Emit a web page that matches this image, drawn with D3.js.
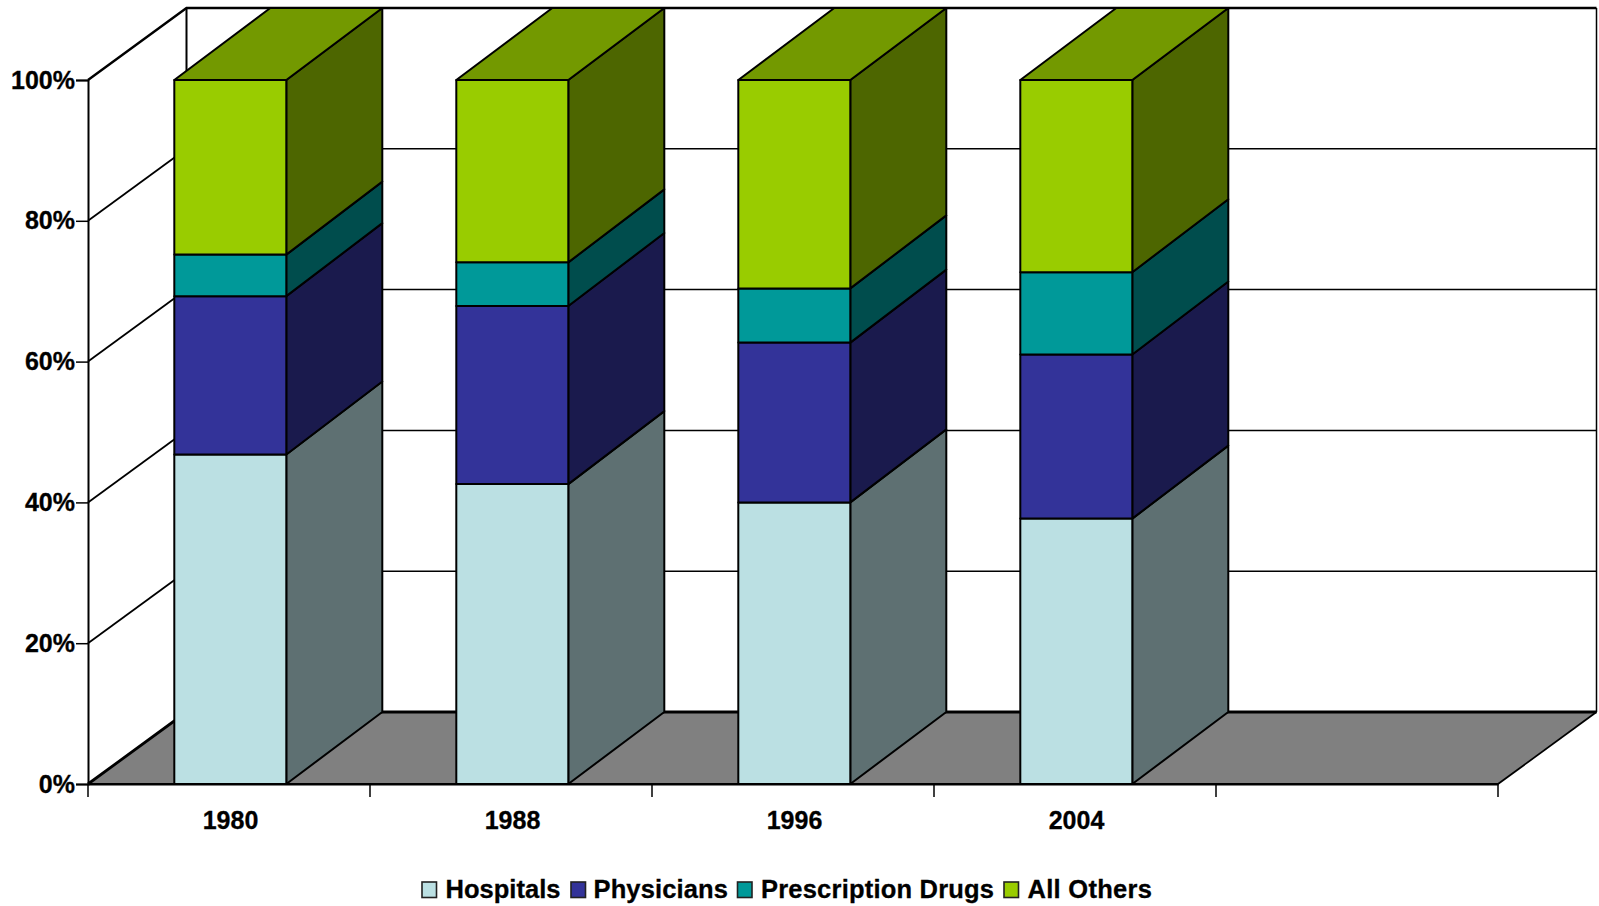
<!DOCTYPE html>
<html>
<head>
<meta charset="utf-8">
<script src="https://cdn.jsdelivr.net/npm/d3@7"></script>
<style>
html,body{margin:0;padding:0;background:#fff;overflow:hidden}
svg{display:block}
text{font-family:"Liberation Sans",Arial,sans-serif;font-weight:700;fill:#000;stroke:#000;stroke-width:0.3px}
</style>
</head>
<body>
<svg id="chart" width="1599" height="906"></svg>
<script>
const categories = ["1980", "1988", "1996", "2004", ""];
const seriesNames = ["Hospitals", "Physicians", "Prescription Drugs", "All Others"];
const hospitals = [46.8, 42.6, 40.0, 37.7];
const physicians = [22.5, 25.3, 22.7, 23.3];
const prescriptionDrugs = [5.9, 6.2, 7.7, 11.7];
const allOthers = [24.8, 25.9, 29.6, 27.3];
const yTicks = [0, 20, 40, 60, 80, 100];
const frontColors = ["#BBE0E3", "#333399", "#009999", "#99CC00"];
const sideColors = ["#5E7072", "#1A1A4D", "#004D4D", "#4D6600"];
const topColors = ["#8CA8AA", "#262673", "#007373", "#739900"];

// layout
const plotLeft = 88, plotRight = 1498, plotTop = 80, plotBottom = 784;
const wallDx = 98.5, wallDy = 72, barDx = 96, barDy = 72, barDyInner = 73;
const barInset = 86.3, barWidth = 112;
const legendSwatchX = [422, 571, 737.5, 1004];
const legendTextX = [445.5, 593.5, 761, 1027.5];
const legendTextW = [115, 134.5, 233, 124.5];

const svg = d3.select("#chart");
const x = d3.scaleBand().domain(categories).range([plotLeft, plotRight]);
const y = d3.scaleLinear().domain([0, 100]).range([plotBottom, plotTop]);
const pts = a => a.map(p => p.join(",")).join(" ");

// back and side walls
const walls = svg.append("g");
walls.append("polygon")
  .attr("points", pts([[plotLeft, y(0)], [plotLeft + wallDx, y(0) - wallDy], [plotRight + wallDx, y(0) - wallDy], [plotRight, y(0)]]))
  .attr("fill", "#808080");

const gridTicks = yTicks.slice(1, -1);
walls.selectAll("line.back").data(gridTicks).join("line").attr("class", "back")
  .attr("x1", plotLeft + wallDx).attr("x2", plotRight + wallDx)
  .attr("y1", d => y(d) - wallDy).attr("y2", d => y(d) - wallDy)
  .attr("stroke", "#000").attr("stroke-width", 1.5);
walls.selectAll("line.side").data(gridTicks).join("line").attr("class", "side")
  .attr("x1", plotLeft).attr("x2", plotLeft + wallDx)
  .attr("y1", d => y(d)).attr("y2", d => y(d) - wallDy)
  .attr("stroke", "#000").attr("stroke-width", 1.8);

// wall frame
walls.append("path")
  .attr("d", `M${plotLeft},${y(0)}L${plotLeft + wallDx},${y(0) - wallDy}L${plotRight + wallDx},${y(0) - wallDy}`)
  .attr("fill", "none").attr("stroke", "#000").attr("stroke-width", 2.8);
walls.append("path")
  .attr("d", `M${plotLeft},${y(100)}L${plotLeft + wallDx},${y(100) - wallDy}L${plotRight + wallDx},${y(100) - wallDy}`)
  .attr("fill", "none").attr("stroke", "#000").attr("stroke-width", 2.4);
walls.append("line")
  .attr("x1", plotLeft + wallDx).attr("x2", plotLeft + wallDx)
  .attr("y1", y(100) - wallDy).attr("y2", y(0) - wallDy)
  .attr("stroke", "#000").attr("stroke-width", 2);
walls.append("line")
  .attr("x1", plotRight + wallDx).attr("x2", plotRight + wallDx)
  .attr("y1", y(100) - wallDy).attr("y2", y(0) - wallDy)
  .attr("stroke", "#000").attr("stroke-width", 1.5);
walls.append("line")
  .attr("x1", plotRight).attr("x2", plotRight + wallDx)
  .attr("y1", y(0)).attr("y2", y(0) - wallDy)
  .attr("stroke", "#000").attr("stroke-width", 1.8);

// axes
const yAxis = d3.axisLeft(y).tickValues(yTicks).tickFormat(d => d + "%").tickSize(12).tickPadding(1);
const gy = svg.append("g").attr("transform", `translate(${plotLeft},0)`).call(yAxis);
const xAxis = d3.axisBottom(x).tickSize(0).tickPadding(27);
const gx = svg.append("g").attr("transform", `translate(0,${plotBottom})`).call(xAxis);
gx.selectAll(".tick text").attr("dx", 1.5);
const xEdges = categories.map(c => x(c)).concat([plotRight]);
gx.selectAll("line.edge").data(xEdges).join("line").attr("class", "edge")
  .attr("x1", d => d).attr("x2", d => d).attr("y1", 0).attr("y2", 13)
  .attr("stroke", "#000").attr("stroke-width", 1.5);
[gy, gx].forEach(g => {
  g.selectAll(".domain").attr("stroke", "#000").attr("stroke-width", 2);
  g.selectAll(".tick line").attr("stroke", "#000").attr("stroke-width", 1.5);
  g.selectAll("text").style("font-size", "25px");
});

// stacked 3D bars
const rows = categories.slice(0, 4).map((c, i) => ({
  cat: c,
  "Hospitals": hospitals[i],
  "Physicians": physicians[i],
  "Prescription Drugs": prescriptionDrugs[i],
  "All Others": allOthers[i]
}));
const stack = d3.stack().keys(seriesNames)(rows);
const barStroke = { stroke: "#000", "stroke-width": 2, "stroke-linejoin": "round" };
const applyStroke = s => { Object.entries(barStroke).forEach(([k, v]) => s.attr(k, v)); return s; };

rows.forEach((row, i) => {
  const bx = x(row.cat) + barInset;
  const g = svg.append("g");
  stack.forEach((layer, k) => {
    const [v0, v1] = layer[i];
    const y0 = y(v0), y1 = y(v1);
    const last = k === stack.length - 1;
    const d0 = k === 0 ? barDy : barDyInner;
    const d1 = last ? barDy : barDyInner;
    applyStroke(g.append("polygon")
      .attr("points", pts([[bx + barWidth, y0], [bx + barWidth + barDx, y0 - d0], [bx + barWidth + barDx, y1 - d1], [bx + barWidth, y1]]))
      .attr("fill", sideColors[k]));
    applyStroke(g.append("rect")
      .attr("x", bx).attr("y", y1).attr("width", barWidth).attr("height", y0 - y1)
      .attr("fill", frontColors[k]));
    if (last) {
      applyStroke(g.append("polygon")
        .attr("points", pts([[bx, y1], [bx + barDx, y1 - barDy], [bx + barWidth + barDx, y1 - barDy], [bx + barWidth, y1]]))
        .attr("fill", topColors[k]));
    }
  });
});

// front floor edge redraw
svg.append("line").attr("x1", plotLeft).attr("x2", plotRight).attr("y1", plotBottom).attr("y2", plotBottom)
  .attr("stroke", "#000").attr("stroke-width", 1.8);

// legend
const legend = svg.append("g");
legend.selectAll("rect").data(seriesNames).join("rect")
  .attr("x", (d, i) => legendSwatchX[i]).attr("y", 882)
  .attr("width", 14.5).attr("height", 15.5)
  .attr("fill", (d, i) => frontColors[i])
  .attr("stroke", "#222").attr("stroke-width", 1.6);
legend.selectAll("text").data(seriesNames).join("text")
  .attr("x", (d, i) => legendTextX[i]).attr("y", 898)
  .attr("textLength", (d, i) => legendTextW[i])
  .attr("lengthAdjust", "spacing")
  .style("font-size", "25.5px")
  .text(d => d);
</script>
</body>
</html>
